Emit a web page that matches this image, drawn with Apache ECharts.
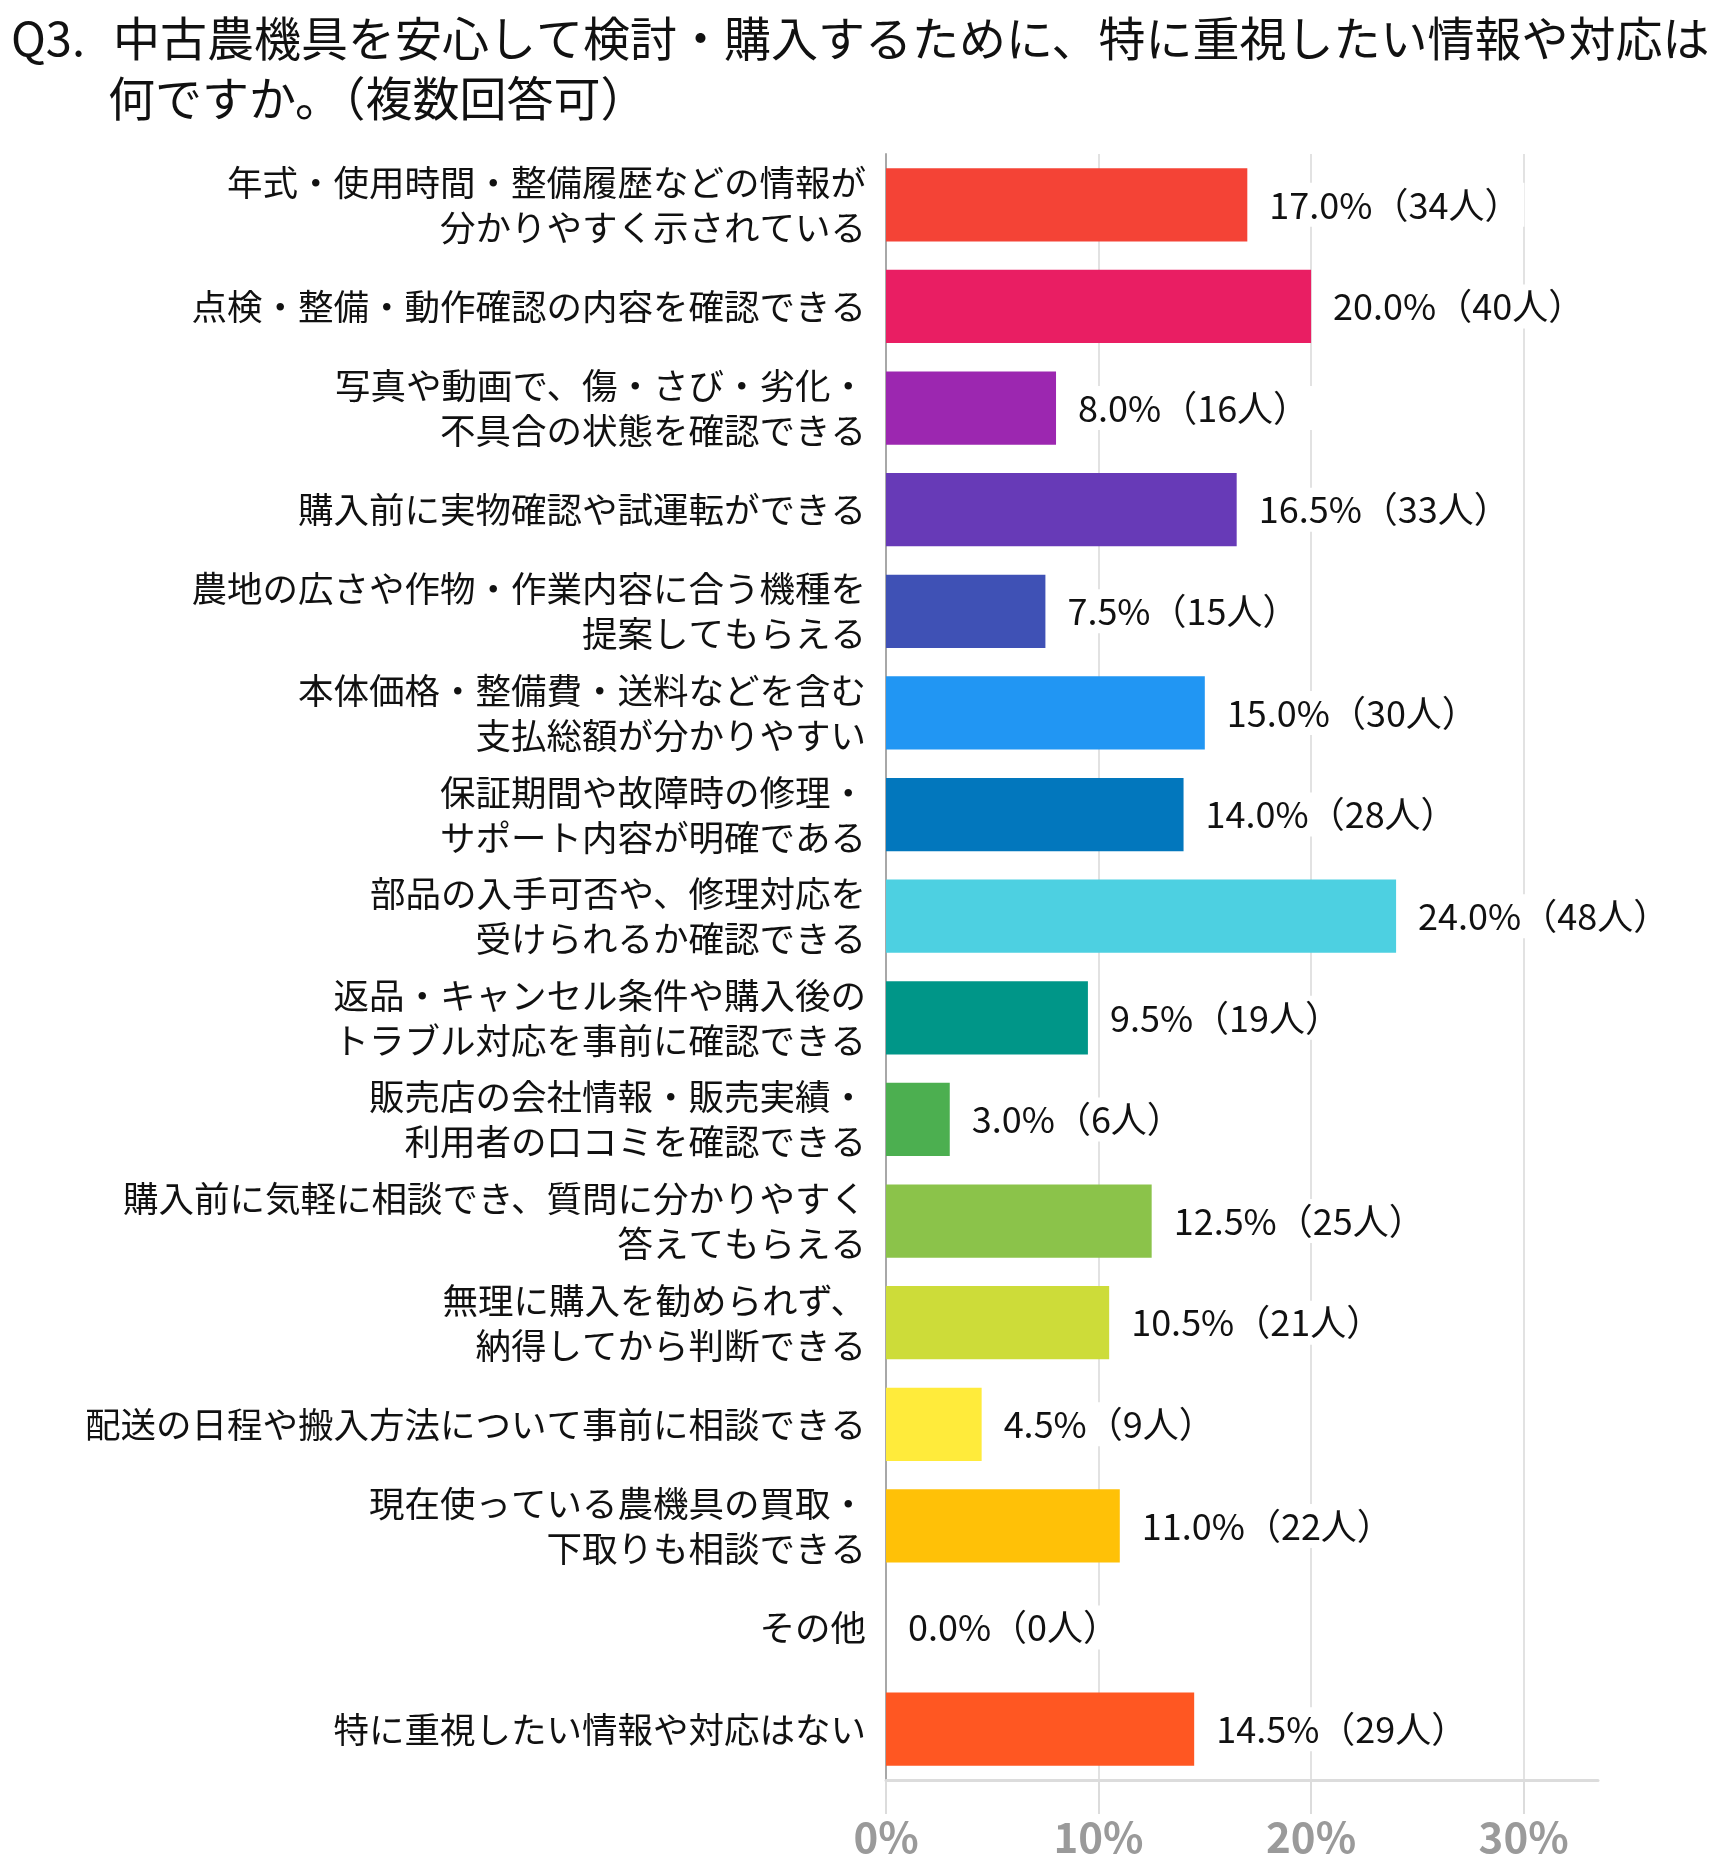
<!DOCTYPE html>
<html>
<head>
<meta charset="utf-8">
<script src="https://cdn.jsdelivr.net/npm/echarts@6/dist/echarts.min.js"></script>
<style>
html, body { margin: 0; padding: 0; background: #fff; }
#chart { width: 1729px; height: 1869px; }
</style>
</head>
<body>
<div id="chart"></div>
<script>
var titleNo = 'Q3.';
var titleLine1 = '中古農機具を安心して検討・購入するために、特に重視したい情報や対応は';
var titleLine2 = '何ですか。（複数回答可）';

var categories = [
    '年式・使用時間・整備履歴などの情報が\n分かりやすく示されている',
    '点検・整備・動作確認の内容を確認できる',
    '写真や動画で、傷・さび・劣化・\n不具合の状態を確認できる',
    '購入前に実物確認や試運転ができる',
    '農地の広さや作物・作業内容に合う機種を\n提案してもらえる',
    '本体価格・整備費・送料などを含む\n支払総額が分かりやすい',
    '保証期間や故障時の修理・\nサポート内容が明確である',
    '部品の入手可否や、修理対応を\n受けられるか確認できる',
    '返品・キャンセル条件や購入後の\nトラブル対応を事前に確認できる',
    '販売店の会社情報・販売実績・\n利用者の口コミを確認できる',
    '購入前に気軽に相談でき、質問に分かりやすく\n答えてもらえる',
    '無理に購入を勧められず、\n納得してから判断できる',
    '配送の日程や搬入方法について事前に相談できる',
    '現在使っている農機具の買取・\n下取りも相談できる',
    'その他',
    '特に重視したい情報や対応はない'
];
var percents = [17.0, 20.0, 8.0, 16.5, 7.5, 15.0, 14.0, 24.0, 9.5, 3.0, 12.5, 10.5, 4.5, 11.0, 0.0, 14.5];
var counts = [34, 40, 16, 33, 15, 30, 28, 48, 19, 6, 25, 21, 9, 22, 0, 29];
var barColors = ['#F44336', '#E91E63', '#9C27B0', '#673AB7', '#3F51B5', '#2196F3', '#0277BD', '#4DD0E1',
                 '#009688', '#4CAF50', '#8BC34A', '#CDDC39', '#FFEB3B', '#FFC107', '#9E9E9E', '#FF5722'];
var xTicks = [0, 10, 20, 30];

var font = '"Noto Sans CJK JP", "Noto Sans", sans-serif';
var titleStyle = { fontFamily: font, fontSize: 47, fontWeight: 'normal', color: '#111' };

var barData = percents.map(function (v, i) {
    return { value: v, itemStyle: { color: barColors[i] } };
});

var option = {
    animation: false,
    backgroundColor: '#fff',
    title: [
        { text: titleNo, left: 6, top: 10, textStyle: titleStyle },
        { text: titleLine1, left: 108, top: 10, textStyle: titleStyle },
        { text: titleLine2, left: 103, top: 70, textStyle: titleStyle }
    ],
    grid: {
        left: 886,
        right: 131,
        top: 154,
        bottom: 89
    },
    xAxis: {
        type: 'value',
        min: 0,
        max: 33.5,
        interval: 10,
        axisLine: { show: true, lineStyle: { color: '#dcdcdc', width: 3 } },
        axisTick: { show: true, length: 34, lineStyle: { color: '#dcdcdc', width: 2 } },
        splitLine: { show: true, showMaxLine: false, lineStyle: { color: '#e2e2e2', width: 2 } },
        axisLabel: {
            margin: 36,
            showMaxLabel: false,
            fontFamily: font,
            fontSize: 42,
            fontWeight: 'bold',
            color: '#9a9a9a',
            formatter: function (v) {
                return xTicks.indexOf(v) >= 0 ? v + '%' : '';
            }
        }
    },
    yAxis: {
        type: 'category',
        inverse: true,
        data: categories,
        axisLine: { show: true, lineStyle: { color: '#a8a8a8', width: 2 } },
        axisTick: { show: false },
        axisLabel: {
            margin: 20,
            fontFamily: font,
            fontSize: 35.5,
            lineHeight: 45,
            color: '#111',
            align: 'right'
        }
    },
    series: [
        {
            type: 'bar',
            data: barData,
            barCategoryGap: '28%',
            z: 3,
            label: {
                show: true,
                position: 'right',
                distance: 18,
                padding: [4, 4],
                backgroundColor: '#fff',
                fontFamily: font,
                fontSize: 36,
                color: '#111',
                formatter: function (p) {
                    return percents[p.dataIndex].toFixed(1) + '%（' + counts[p.dataIndex] + '人）';
                }
            }
        }
    ]
};

var chart = echarts.init(document.getElementById('chart'));
chart.setOption(option);
</script>
</body>
</html>
